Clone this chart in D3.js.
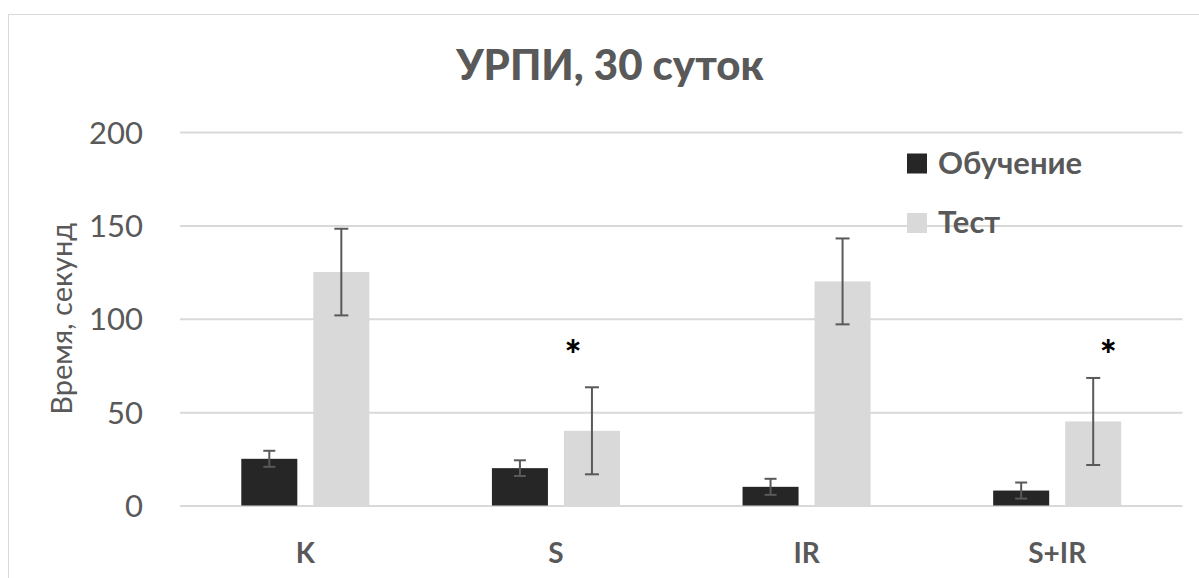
<!DOCTYPE html>
<html>
<head>
<meta charset="utf-8">
<script src="https://cdn.jsdelivr.net/npm/d3@7"></script>
<style>
  html, body { margin: 0; padding: 0; background: #ffffff; }
  svg { display: block; }
  text { font-family: "Lato", "Open Sans", sans-serif; }
</style>
</head>
<body>
<svg id="chart" width="1199" height="578"></svg>
<script>
// Chart data
const title = "УРПИ, 30 суток";
const yLabel = "Время, секунд";
const categories = ["K", "S", "IR", "S+IR"];
const seriesNames = ["Обучение", "Тест"];
const trainValues = [25, 20, 10, 8];
const testValues = [125, 40, 120, 45];
const trainErrors = [4.3, 4.2, 4.3, 4.3];
const testErrors = [23.2, 23.3, 23.0, 23.3];
const yTicks = [0, 50, 100, 150, 200];
const significantGroups = ["S", "S+IR"];
const significanceLevel = 88;

const seriesColors = ["#262626", "#d9d9d9"];
const textColor = "#595959";

const svg = d3.select("#chart");
const W = 1199, H = 578;
const margin = { left: 180, right: 16.5, top: 132, bottom: 72.5 };

// Outer chart-area frame
svg.append("rect")
  .attr("x", 8.5).attr("y", 14.5)
  .attr("width", 1204).attr("height", 600)
  .attr("fill", "none").attr("stroke", "#d9d9d9").attr("stroke-width", 1);

const x0 = d3.scaleBand()
  .domain(categories)
  .range([margin.left, W - margin.right])
  .paddingInner(0).paddingOuter(0);

const x1 = d3.scaleBand()
  .domain(seriesNames)
  .range([0, x0.bandwidth()])
  .paddingInner(0.2222)
  .paddingOuter(0.851);

const y = d3.scaleLinear()
  .domain([0, 200])
  .range([H - margin.bottom, margin.top]);

// Gridlines and tick labels
const yAxis = d3.axisLeft(y)
  .tickValues(yTicks)
  .tickSize(-(W - margin.right - margin.left))
  .tickPadding(37);

const gy = svg.append("g")
  .attr("transform", `translate(${margin.left},0)`)
  .call(yAxis);
gy.select(".domain").remove();
gy.selectAll(".tick line").attr("stroke", "#d9d9d9").attr("stroke-width", 2);
gy.selectAll(".tick text")
  .attr("fill", textColor)
  .style("font-size", "31px")
  .attr("dy", "0.36em");

// Bars
const rows = categories.map((c, i) => ({
  cat: c,
  vals: [
    { s: seriesNames[0], v: trainValues[i], e: trainErrors[i] },
    { s: seriesNames[1], v: testValues[i], e: testErrors[i] }
  ]
}));

const groups = svg.append("g").selectAll("g")
  .data(rows).join("g")
  .attr("transform", d => `translate(${x0(d.cat)},0)`);

groups.selectAll("rect")
  .data(d => d.vals).join("rect")
  .attr("x", d => x1(d.s))
  .attr("y", d => y(d.v))
  .attr("width", x1.bandwidth())
  .attr("height", d => y(0) - y(d.v))
  .attr("fill", (d, i) => seriesColors[i]);

// Error bars
const capHalf = [6, 7];
const eb = groups.selectAll("g.err")
  .data(d => d.vals).join("g").attr("class", "err")
  .attr("stroke", "#595959").attr("stroke-width", 2);
eb.append("line")
  .attr("x1", d => x1(d.s) + x1.bandwidth() / 2)
  .attr("x2", d => x1(d.s) + x1.bandwidth() / 2)
  .attr("y1", d => y(d.v + d.e))
  .attr("y2", d => y(d.v - d.e));
eb.each(function (d, i) {
  const cx = x1(d.s) + x1.bandwidth() / 2;
  const g = d3.select(this);
  [d.v + d.e, d.v - d.e].forEach(val => {
    g.append("line")
      .attr("x1", cx - capHalf[i]).attr("x2", cx + capHalf[i])
      .attr("y1", y(val)).attr("y2", y(val));
  });
});

// Significance marks
const starShift = { "S": 17, "S+IR": 51 };
svg.append("g").selectAll("text")
  .data(significantGroups).join("text")
  .attr("x", d => x0(d) + x0.bandwidth() / 2 + starShift[d])
  .attr("y", y(significanceLevel))
  .attr("text-anchor", "middle")
  .attr("dy", "0.72em")
  .attr("fill", "#000000")
  .style("font-size", "40px")
  .style("font-weight", "900")
  .text("*");

// Category labels
svg.append("g").selectAll("text")
  .data(categories).join("text")
  .attr("x", d => x0(d) + x0.bandwidth() / 2)
  .attr("y", 563)
  .attr("text-anchor", "middle")
  .attr("fill", textColor)
  .style("font-size", "28px")
  .style("font-weight", "bold")
  .text(d => d);

// Title
svg.append("text")
  .attr("x", 610).attr("y", 80)
  .attr("text-anchor", "middle")
  .attr("fill", textColor)
  .style("font-size", "42px")
  .style("font-weight", "900")
  .text(title);

// Y axis title
svg.append("text")
  .attr("transform", `translate(72,${(y(0) + y(200)) / 2}) rotate(-90)`)
  .attr("text-anchor", "middle")
  .attr("fill", textColor)
  .style("font-size", "29px")
  .text(yLabel);

// Legend
const legend = svg.append("g");
const legendRows = seriesNames.map((s, i) => ({ s, i }));
const lg = legend.selectAll("g").data(legendRows).join("g")
  .attr("transform", d => `translate(907,${153.5 + d.i * 59.5})`);
lg.append("rect")
  .attr("width", 20).attr("height", 20)
  .attr("fill", d => seriesColors[d.i]);
lg.append("text")
  .attr("x", 31).attr("y", 20)
  .attr("fill", textColor)
  .style("font-size", "31px")
  .style("font-weight", "bold")
  .text(d => d.s);
</script>
</body>
</html>
